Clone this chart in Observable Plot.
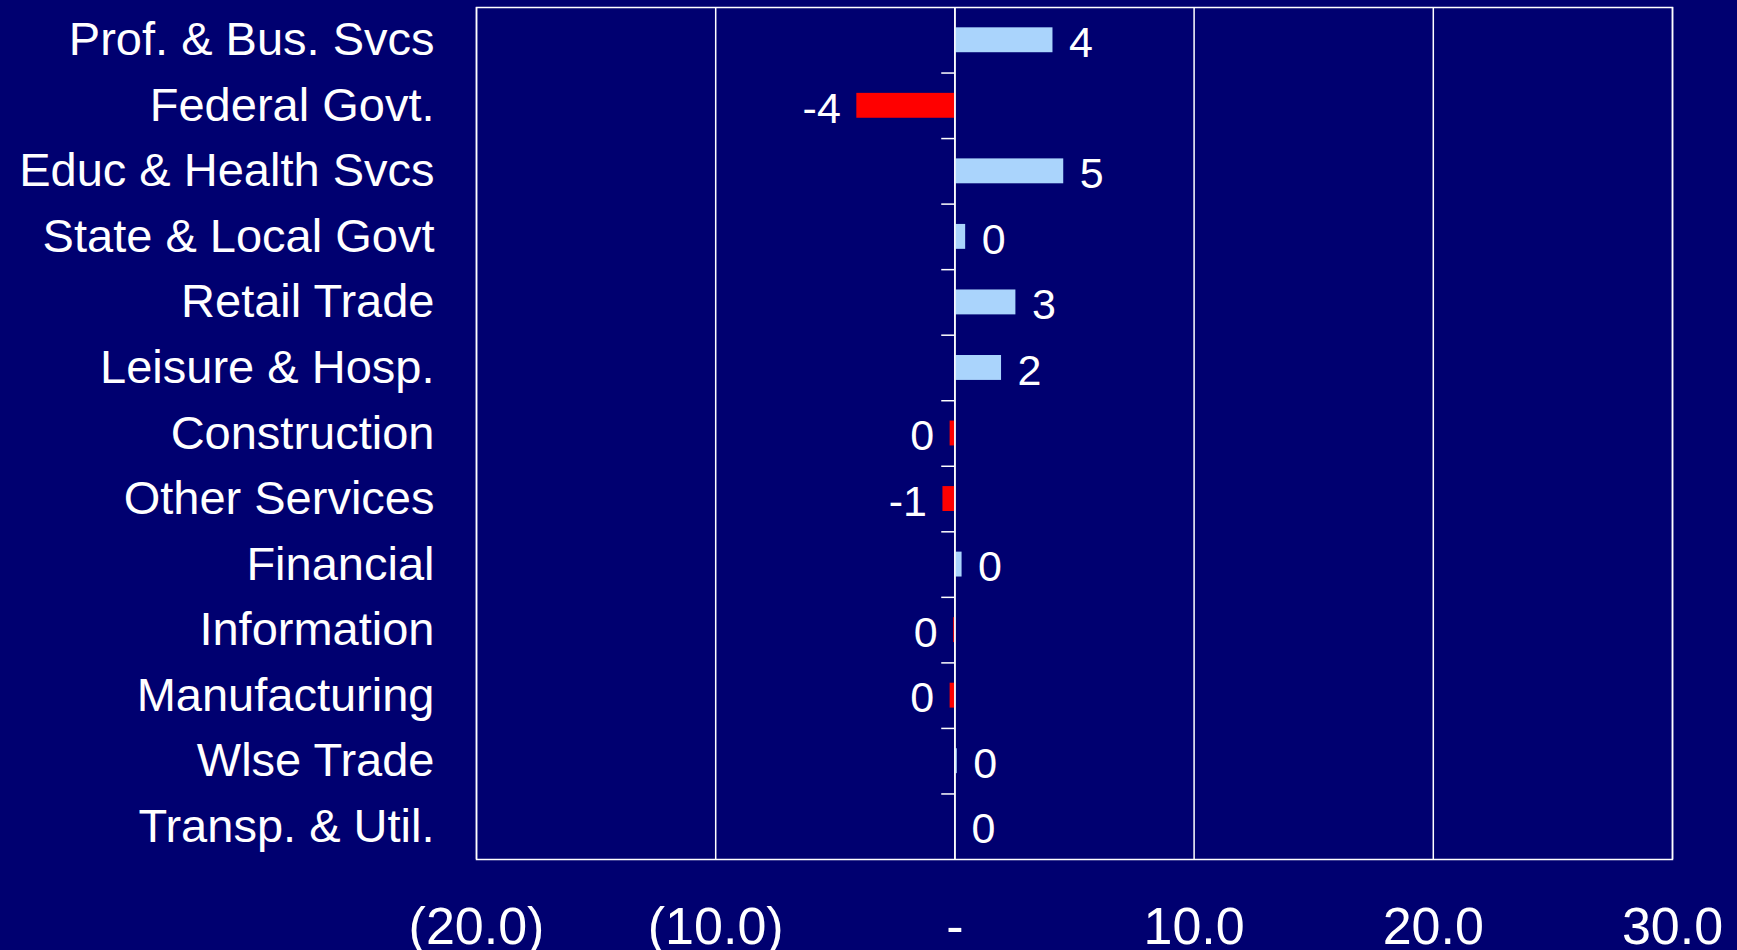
<!DOCTYPE html>
<html>
<head>
<meta charset="utf-8">
<script src="https://cdn.jsdelivr.net/npm/d3@7"></script>
<script src="https://cdn.jsdelivr.net/npm/@observablehq/plot@0.6"></script>
<style>
  body { margin: 0; background: #000070; }
  #chart svg { display: block; }
</style>
</head>
<body>
<div id="chart"></div>
<script>
const sectors = ['Prof. & Bus. Svcs', 'Federal Govt.', 'Educ & Health Svcs', 'State & Local Govt',
  'Retail Trade', 'Leisure & Hosp.', 'Construction', 'Other Services', 'Financial',
  'Information', 'Manufacturing', 'Wlse Trade', 'Transp. & Util.'];
const changes = [4.1, -4.1, 4.55, 0.45, 2.55, 1.95, -0.2, -0.5, 0.3, -0.05, -0.2, 0.1, 0.02];
const xTicks = [-20, -10, 0, 10, 20, 30];
const xTickLabels = ['(20.0)', '(10.0)', '-', '10.0', '20.0', '30.0'];

const data = sectors.map((s, i) => ({sector: s, value: changes[i]}));
const fmt = v => { const t = d3.format('.0f')(Math.abs(v)); return v < 0 && t !== '0' ? '-' + t : t; };
const rowH = (950 - 7 - 91) / sectors.length;

const chart = Plot.plot({
  width: 1737,
  height: 950,
  marginLeft: 476,
  marginRight: 65,
  marginTop: 7,
  marginBottom: 91,
  style: {background: '#000070', color: 'white', fontFamily: 'Liberation Sans, Arial, sans-serif'},
  x: {domain: [-20, 30], ticks: xTicks, tickFormat: d => xTickLabels[xTicks.indexOf(d)], tickSize: 0, label: null},
  y: {domain: sectors, paddingInner: 0.62, paddingOuter: 0.31, align: 0.5, round: false, label: null},
  marks: [
    Plot.gridX(xTicks, {stroke: 'white', strokeOpacity: 1, strokeWidth: 1.5}),
    Plot.frame({stroke: 'white', strokeWidth: 1.5}),
    Plot.barX(data, {x: 'value', y: 'sector', fill: d => d.value < 0 ? '#ff0000' : '#aad4fc'}),
    Plot.ruleY(sectors.slice(1), {y: d => d, dy: -rowH / 2, x1: -0.55, x2: 0, stroke: 'white', strokeWidth: 1.5}),
    Plot.ruleX([0], {stroke: 'white', strokeWidth: 1.5}),
    Plot.text(data.filter(d => d.value >= 0), {x: 'value', y: 'sector', text: d => fmt(d.value),
      textAnchor: 'start', dx: 16, dy: 3, fill: 'white', fontSize: 43}),
    Plot.text(data.filter(d => d.value < 0), {x: 'value', y: 'sector', text: d => fmt(d.value),
      textAnchor: 'end', dx: -16, dy: 3, fill: 'white', fontSize: 43}),
    Plot.axisY({tickSize: 0, tickPadding: 42, fontSize: 47, fill: 'white'}),
    Plot.axisX({ticks: xTicks, tickFormat: d => xTickLabels[xTicks.indexOf(d)], tickSize: 0, tickPadding: 48, fontSize: 52, fill: 'white', label: null})
  ]
});

d3.select('#chart').append(() => chart);
</script>
</body>
</html>
